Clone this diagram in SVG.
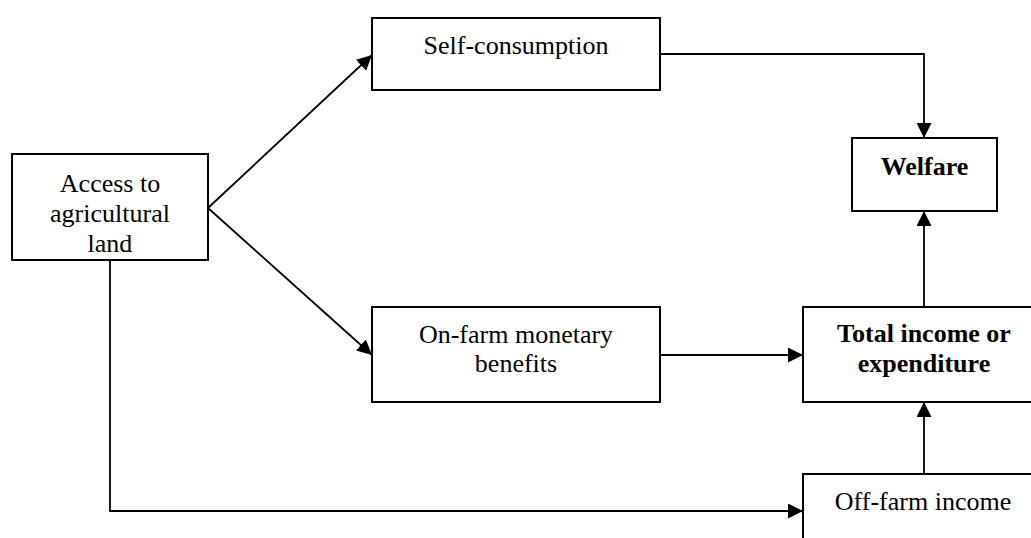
<svg xmlns="http://www.w3.org/2000/svg" width="1031" height="538" viewBox="0 0 1031 538">
<style>
.box{fill:#fff;stroke:#000;stroke-width:2}
.t{font-family:"Liberation Serif","Times New Roman",serif;font-size:26px;fill:#000;text-anchor:middle}
.b{font-weight:bold}
.c{fill:none;stroke:#000;stroke-width:1.8}
</style>
<defs>
<marker id="ah" markerUnits="userSpaceOnUse" markerWidth="15" markerHeight="15" refX="15" refY="7.5" orient="auto">
<path d="M0,0 L15,7.5 L0,15 z" fill="#000"/>
</marker>
</defs>
<rect width="1031" height="538" fill="#fff"/>
<g id="connectors">
<path class="c" d="M660,54 H924 V138" marker-end="url(#ah)"/>
<path class="c" d="M208,208 L372,55" marker-end="url(#ah)"/>
<path class="c" d="M208,208 L372,355" marker-end="url(#ah)"/>
<path class="c" d="M660,355 H803" marker-end="url(#ah)"/>
<path class="c" d="M924,307 V211" marker-end="url(#ah)"/>
<path class="c" d="M924,474 V402" marker-end="url(#ah)"/>
<path class="c" d="M110,260 V511 H803" marker-end="url(#ah)"/>
</g>
<g id="access">
<rect class="box" x="12" y="154" width="196" height="106"/>
<text class="t" x="110" y="192">Access to</text>
<text class="t" x="110" y="222">agricultural</text>
<text class="t" x="110" y="252">land</text>
</g>
<g id="self">
<rect class="box" x="372" y="18" width="288" height="72"/>
<text class="t" x="516" y="54">Self-consumption</text>
</g>
<g id="onfarm">
<rect class="box" x="372" y="307" width="288" height="95"/>
<text class="t" x="516" y="343">On-farm monetary</text>
<text class="t" x="516" y="372">benefits</text>
</g>
<g id="welfare">
<rect class="box" x="852" y="138" width="145" height="73"/>
<text class="t b" x="924.5" y="175">Welfare</text>
</g>
<g id="total">
<rect class="box" x="803" y="307" width="250" height="95"/>
<text class="t b" x="924" y="342">Total income or</text>
<text class="t b" x="924" y="372">expenditure</text>
</g>
<g id="offfarm">
<rect class="box" x="803" y="474" width="250" height="90"/>
<text class="t" x="923" y="510">Off-farm income</text>
</g>
</svg>
